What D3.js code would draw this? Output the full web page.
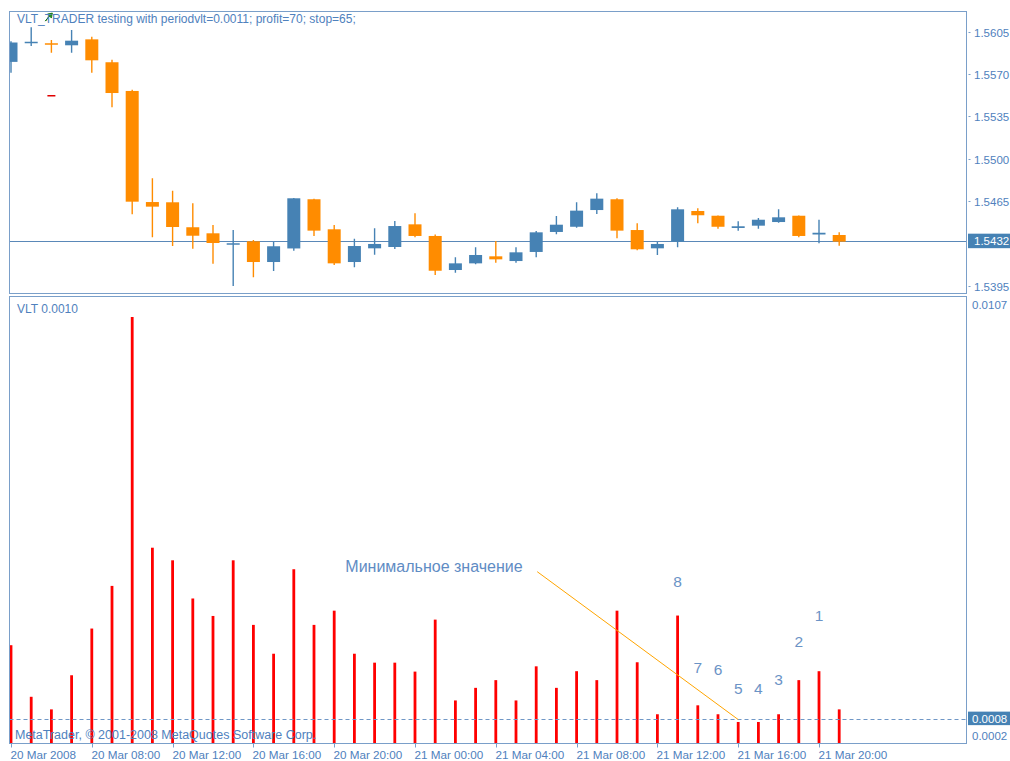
<!DOCTYPE html>
<html><head><meta charset="utf-8">
<script src="https://cdnjs.cloudflare.com/ajax/libs/d3/7.8.5/d3.min.js"></script>
<style>body{margin:0;background:#fff;} svg{display:block;font-family:"Liberation Sans",Arial,sans-serif;}</style>
</head><body><svg id="c" width="1010" height="761"></svg>
<script>
// ---------- data ----------
const chartTitle = "VLT_TRADER testing with periodvlt=0.0011; profit=70; stop=65;";
const indicatorTitle = "VLT 0.0010";
const copyright = "MetaTrader, \u00A9 2001-2008 MetaQuotes Software Corp.";

const opens  = [1.5580,1.5596,1.55950,1.55937,1.55986,1.55797,1.55560,1.54643,1.54641,1.54435,1.54385,1.54297,1.54319,1.54148,1.54260,1.54666,1.54418,1.54148,1.54261,1.54272,1.54459,1.54363,1.54082,1.54137,1.54195,1.54156,1.54231,1.54396,1.54439,1.54577,1.54666,1.54412,1.54261,1.54316,1.54569,1.54530,1.54429,1.54448,1.54478,1.54530,1.54382,1.54371];
const highs  = [1.5597,1.56085,1.55981,1.56063,1.56008,1.55818,1.55570,1.54839,1.54737,1.54633,1.54454,1.54412,1.54330,1.54313,1.54676,1.54670,1.54454,1.54340,1.54426,1.54487,1.54550,1.54375,1.54187,1.54269,1.54321,1.54269,1.54404,1.54528,1.54641,1.54715,1.54674,1.54467,1.54313,1.54600,1.54591,1.54532,1.54484,1.54511,1.54583,1.54532,1.54497,1.54393];
const lows   = [1.5571,1.55931,1.55876,1.55876,1.55711,1.55425,1.54542,1.54352,1.54280,1.54258,1.54134,1.53950,1.54022,1.54074,1.54240,1.54363,1.54123,1.54104,1.54208,1.54255,1.54352,1.54041,1.54060,1.54130,1.54142,1.54142,1.54187,1.54377,1.54430,1.54544,1.54344,1.54245,1.54206,1.54269,1.54467,1.54423,1.54406,1.54423,1.54472,1.54352,1.54302,1.54283];
const closes = [1.5596,1.5596,1.55945,1.55975,1.55813,1.55543,1.54646,1.54605,1.54437,1.54365,1.54305,1.54297,1.54148,1.54278,1.54674,1.54407,1.54137,1.54280,1.54297,1.54445,1.54363,1.54076,1.54137,1.54206,1.54170,1.54228,1.54393,1.54456,1.54572,1.54671,1.54407,1.54253,1.54297,1.54583,1.54534,1.54439,1.54443,1.54497,1.54517,1.54363,1.54382,1.54316];

const vltValues = [0.00262,0.00135,0.00104,0.00188,0.00303,0.00408,0.0107,0.00502,0.00471,0.00377,0.00334,0.00471,0.00312,0.00241,0.00449,0.00312,0.00347,0.00241,0.00219,0.00219,0.00197,0.00325,0.00126,0.00157,0.00176,0.00126,0.00210,0.00157,0.00198,0.00176,0.00347,0.00220,0.00092,0.00335,0.00114,0.00092,0.00073,0.00073,0.00092,0.00176,0.00198,0.00104];

const timeLabels = ["20 Mar 2008","20 Mar 08:00","20 Mar 12:00","20 Mar 16:00","20 Mar 20:00","21 Mar 00:00","21 Mar 04:00","21 Mar 08:00","21 Mar 12:00","21 Mar 16:00","21 Mar 20:00"];
const timeTickBars = [0,4,8,12,16,20,24,28,32,36,40];

const priceTicks = [1.5605,1.5570,1.5535,1.5500,1.5465,1.5395];
const priceDomain = [1.5395,1.5605];
const currentPrice = 1.5432;

const vltDomain = [0.0002,0.0107];
const vltTickLabels = ["0.0107","0.0002"];
const vltLevel = 0.0008;

const tradeBar = 2;
const entryPrice = 1.5617;
const stopPrice = 1.5552;

const noteText = "Минимальное значение";
const noteTextPos = [16.55, 0.00457];
const noteLineStart = [26.05, 0.00443];
const noteTargetBar = 36;
const noteTargetValue = 0.00079;

const countLabels = ["8","7","6","5","4","3","2","1"];
const countBars   = [33,34,35,36,37,38,39,40];
const countValues = [0.00418,0.00208,0.00201,0.00156,0.00156,0.00178,0.00271,0.00336];

// ---------- layout ----------
const W = 1010, H = 761;
const L = 9.5, R = 966.5;
const topY0 = 11.5, topY1 = 293.5;
const botY0 = 296.5, botY1 = 743.5;
const BLUE = "#4682B4", ORANGE = "#FF8C00";
const TXT = "#4f81bd", BORDER = "#7a9fc9";

const svg = d3.select("#c");
svg.append("rect").attr("width",W).attr("height",H).attr("fill","#fff");

const x = d3.scaleLinear().domain([0,41]).range([11, 11+20.2*41]);
const yP = d3.scaleLinear().domain(priceDomain).range([286, 31.6]);
const yV = d3.scaleLinear().domain(vltDomain).range([743.5, 317]);

const defs = svg.append("defs");
defs.append("clipPath").attr("id","clipTop").append("rect")
  .attr("x",L).attr("y",topY0).attr("width",R-L).attr("height",topY1-topY0);
defs.append("clipPath").attr("id","clipBot").append("rect")
  .attr("x",L).attr("y",botY0).attr("width",R-L).attr("height",botY1-botY0);

// ---------- top panel ----------
const topG = svg.append("g").attr("clip-path","url(#clipTop)");
topG.append("line").attr("x1",L).attr("x2",R)
  .attr("y1",Math.round(yP(currentPrice))+0.5).attr("y2",Math.round(yP(currentPrice))+0.5)
  .attr("stroke","#5a88b8").attr("stroke-width",1);

const idx = d3.range(opens.length);
const cg = topG.selectAll("g.candle").data(idx).join("g").attr("class","candle");
const colOf = i => closes[i] >= opens[i] ? BLUE : ORANGE;
cg.append("line")
  .attr("x1",i=>x(i)).attr("x2",i=>x(i))
  .attr("y1",i=>yP(highs[i])).attr("y2",i=>yP(lows[i]))
  .attr("stroke",colOf).attr("stroke-width",1.4);
const bw = 13;
cg.each(function(i){
  const g = d3.select(this);
  const yo = yP(opens[i]), yc = yP(closes[i]);
  const h = Math.abs(yo-yc);
  if (h < 1.5) {
    g.append("line").attr("x1",x(i)-bw/2).attr("x2",x(i)+bw/2)
      .attr("y1",(yo+yc)/2).attr("y2",(yo+yc)/2)
      .attr("stroke",colOf(i)).attr("stroke-width",1.6);
  } else {
    g.append("rect").attr("x",x(i)-bw/2).attr("width",bw)
      .attr("y",Math.min(yo,yc)).attr("height",h)
      .attr("fill",colOf(i));
  }
});

// trade markers
topG.append("path")
  .attr("transform",`translate(${x(tradeBar)-3},${yP(entryPrice)})`)
  .attr("d","M-3,4 L1,-1 L-1,-3 L4,-4 L3,1 L1,-1 Z M-3,4 L1,-1")
  .attr("fill","#1e9a1e").attr("stroke","#0d6e0d").attr("stroke-width",0.8);
topG.append("line").attr("x1",x(tradeBar)-4).attr("x2",x(tradeBar)+4)
  .attr("y1",yP(stopPrice)).attr("y2",yP(stopPrice))
  .attr("stroke","#e00000").attr("stroke-width",1.5);

svg.append("text").attr("x",17).attr("y",23).attr("font-size",12)
  .attr("fill",TXT).text(chartTitle);

svg.append("rect").attr("x",L).attr("y",topY0).attr("width",R-L).attr("height",topY1-topY0)
  .attr("fill","none").attr("stroke",BORDER).attr("stroke-width",1);

// price axis
const pa = svg.append("g");
priceTicks.forEach(p=>{
  const yy = Math.round(yP(p))+0.5;
  pa.append("line").attr("x1",R+2).attr("x2",R+4).attr("y1",yy).attr("y2",yy).attr("stroke",BORDER);
  pa.append("text").attr("x",974).attr("y",yy).attr("dy","0.35em").attr("font-size",11.5)
    .attr("fill",TXT).text(d3.format(".4f")(p));
});
{
  const yy = yP(currentPrice);
  pa.append("rect").attr("x",968).attr("y",yy-7.5).attr("width",42).attr("height",14.5).attr("fill",BLUE);
  pa.append("text").attr("x",974).attr("y",yy).attr("dy","0.35em").attr("font-size",11.5)
    .attr("fill","#fff").text(d3.format(".4f")(currentPrice));
}

// ---------- bottom panel ----------
const botG = svg.append("g").attr("clip-path","url(#clipBot)");
botG.selectAll("rect.bar").data(idx).join("rect").attr("class","bar")
  .attr("x",i=>x(i)-1.4).attr("width",2.8)
  .attr("y",i=>yV(vltValues[i])).attr("height",i=>botY1-yV(vltValues[i]))
  .attr("fill","#ff0000");

botG.append("line").attr("x1",L).attr("x2",R)
  .attr("y1",Math.round(yV(vltLevel))+0.5).attr("y2",Math.round(yV(vltLevel))+0.5)
  .attr("stroke","#6f97c6").attr("stroke-dasharray","4,3");

svg.append("text").attr("x",17).attr("y",313).attr("font-size",12)
  .attr("fill",TXT).text(indicatorTitle);

svg.append("text").attr("x",15).attr("y",739).attr("font-size",12.5)
  .attr("fill",TXT).text(copyright);

// annotation
svg.append("text").attr("x",x(noteTextPos[0])).attr("y",yV(noteTextPos[1])).attr("dy","0.35em")
  .attr("font-size",16).attr("fill","#5f8cc4").text(noteText);
svg.append("line")
  .attr("x1",x(noteLineStart[0])).attr("y1",yV(noteLineStart[1]))
  .attr("x2",x(noteTargetBar)).attr("y2",yV(noteTargetValue))
  .attr("stroke","#ffa500").attr("stroke-width",1);

svg.selectAll("text.cnt").data(countLabels).join("text").attr("class","cnt")
  .attr("x",(d,k)=>x(countBars[k])).attr("y",(d,k)=>yV(countValues[k])).attr("dy","0.35em")
  .attr("text-anchor","middle").attr("font-size",15.5).attr("fill","#6b93c6").text(d=>d);

svg.append("rect").attr("x",L).attr("y",botY0).attr("width",R-L).attr("height",botY1-botY0)
  .attr("fill","none").attr("stroke",BORDER).attr("stroke-width",1);

// vlt axis
const va = svg.append("g");
va.append("text").attr("x",972).attr("y",yV(vltDomain[1])-12).attr("dy","0.35em").attr("font-size",11.5)
  .attr("fill",TXT).text(vltTickLabels[0]);
va.append("text").attr("x",972).attr("y",yV(vltDomain[0])-7.5).attr("dy","0.35em").attr("font-size",11.5)
  .attr("fill",TXT).text(vltTickLabels[1]);
{
  const yy = yV(vltLevel);
  va.append("rect").attr("x",968).attr("y",yy-7.5).attr("width",42).attr("height",13.5).attr("fill",BLUE);
  va.append("text").attr("x",972).attr("y",yy-0.5).attr("dy","0.35em").attr("font-size",11.5)
    .attr("fill","#fff").text(d3.format(".4f")(vltLevel));
}

// time axis
const ta = svg.append("g");
timeTickBars.forEach((b,k)=>{
  const xx = Math.round(x(b))+0.5;
  ta.append("line").attr("x1",xx).attr("x2",xx).attr("y1",botY1).attr("y2",botY1+4).attr("stroke",BORDER);
  ta.append("text").attr("x",xx-1).attr("y",759).attr("font-size",11.7)
    .attr("fill",TXT).text(timeLabels[k]);
});
</script></body></html>
